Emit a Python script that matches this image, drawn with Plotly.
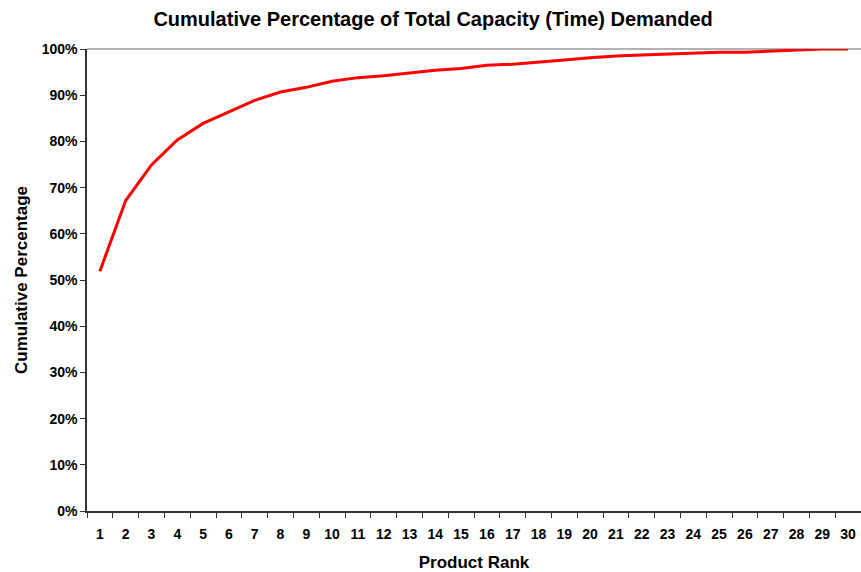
import plotly.graph_objects as go

# Product ranks and cumulative share of total capacity (time) demanded, in percent
ranks = [str(i) for i in range(1, 31)]
cumulative_pct = [51.9, 67.2, 74.9, 80.3, 83.9, 86.4, 88.9, 90.7, 91.7, 93.0,
                  93.8, 94.2, 94.8, 95.4, 95.8, 96.5, 96.7, 97.1, 97.6, 98.1,
                  98.5, 98.7, 98.9, 99.1, 99.3, 99.3, 99.5, 99.7, 100.0, 100.0]
y_ticks = list(range(0, 101, 10))
y_tick_text = [f"{v}%" for v in y_ticks]

FONT = "Liberation Sans, Arial, sans-serif"

fig = go.Figure()
fig.add_trace(go.Scatter(
    x=ranks, y=cumulative_pct, mode="lines",
    line=dict(color="#ff0000", width=3),
    showlegend=False, hoverinfo="x+y",
))

fig.update_layout(
    width=861, height=572,
    margin=dict(l=87, r=0, t=49, b=61),
    paper_bgcolor="white", plot_bgcolor="white",
    font=dict(family=FONT, color="black"),
    title=dict(text="Cumulative Percentage of Total Capacity (Time) Demanded",
               x=0.503, xanchor="center", y=0.967, yanchor="middle",
               font=dict(size=20, weight="bold", family=FONT)),
    xaxis=dict(
        type="category", range=[-0.5, 29.5], tickson="boundaries",
        ticks="outside", ticklen=5, tickcolor="#333",
        showline=True, linecolor="#333", linewidth=1.5,
        showgrid=False, tickfont=dict(size=14, weight="bold"),
        ticklabelstandoff=9,
        title=dict(text="Product Rank", font=dict(size=17, weight="bold"), standoff=17),
    ),
    yaxis=dict(
        range=[0, 100], tickvals=y_ticks, ticktext=y_tick_text,
        ticks="outside", ticklen=5, tickcolor="#333",
        showline=True, linecolor="#333", linewidth=1.5, showgrid=False,
        zeroline=False, tickfont=dict(size=14, weight="bold"),
        title=dict(text="Cumulative Percentage", font=dict(size=17, weight="bold"), standoff=10),
    ),
    shapes=[dict(type="line", xref="paper", yref="paper", x0=0, x1=1, y0=1, y1=1,
                 line=dict(color="#999", width=1.5), layer="below")],
)

fig.write_html("out.html")
